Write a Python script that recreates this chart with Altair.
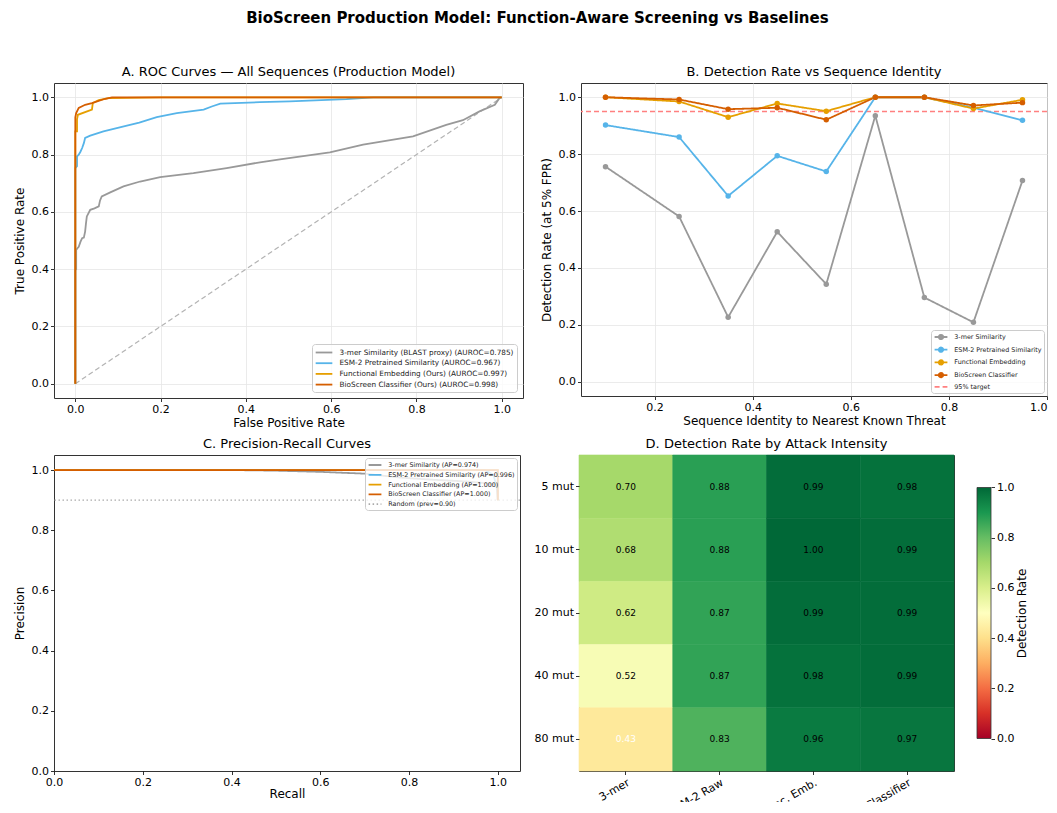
import altair as alt
import pandas as pd

FONT = "DejaVu Sans"

# ---------------- shared ----------------
colors = ["#999999", "#56B4E9", "#E69F00", "#D55E00"]
ticks01 = [0.0, 0.2, 0.4, 0.6, 0.8, 1.0]

# ---------------- Panel A: ROC curves ----------------
roc_labels = [
    "3-mer Similarity (BLAST proxy) (AUROC=0.785)",
    "ESM-2 Pretrained Similarity (AUROC=0.967)",
    "Functional Embedding (Ours) (AUROC=0.997)",
    "BioScreen Classifier (Ours) (AUROC=0.998)",
]
kmer_fpr = [0.0, 0.0, 0.002, 0.002, 0.005, 0.008, 0.012, 0.016, 0.020, 0.023, 0.025, 0.027,
            0.035, 0.045, 0.055, 0.058, 0.062, 0.082, 0.113, 0.152, 0.199, 0.277, 0.355,
            0.433, 0.480, 0.597, 0.675, 0.792, 0.870, 0.909, 0.948, 0.984, 0.995, 1.0]
kmer_tpr = [0.0, 0.397, 0.400, 0.467, 0.473, 0.478, 0.495, 0.508, 0.510, 0.531, 0.560, 0.584,
            0.607, 0.612, 0.619, 0.640, 0.654, 0.668, 0.689, 0.706, 0.721, 0.735, 0.753,
            0.773, 0.783, 0.808, 0.835, 0.864, 0.904, 0.920, 0.951, 0.974, 0.998, 1.0]
esm_fpr = [0.0, 0.0, 0.004, 0.004, 0.008, 0.012, 0.016, 0.020, 0.023, 0.035, 0.066, 0.121,
           0.150, 0.191, 0.238, 0.301, 0.320, 0.340, 0.433, 0.503, 0.636, 0.699, 1.0]
esm_tpr = [0.0, 0.753, 0.760, 0.794, 0.800, 0.810, 0.823, 0.840, 0.858, 0.866, 0.881, 0.901,
           0.912, 0.931, 0.945, 0.957, 0.968, 0.978, 0.983, 0.986, 0.994, 1.0, 1.0]
func_fpr = [0.0, 0.0, 0.004, 0.004, 0.006, 0.039, 0.041, 0.055, 0.078, 0.200, 1.0]
func_tpr = [0.0, 0.881, 0.881, 0.923, 0.939, 0.957, 0.980, 0.990, 0.997, 1.0, 1.0]
clf_fpr = [0.0, 0.0, 0.002, 0.008, 0.023, 0.039, 0.070, 0.086, 1.0]
clf_tpr = [0.0, 0.930, 0.945, 0.963, 0.974, 0.980, 0.995, 1.0, 1.0]
diag_x = [0.0, 1.0]
diag_y = [0.0, 1.0]

# ---------------- Panel B: detection vs identity ----------------
identity = [0.10, 0.25, 0.35, 0.45, 0.55, 0.65, 0.75, 0.85, 0.95]
b_labels = ["3-mer Similarity", "ESM-2 Pretrained Similarity", "Functional Embedding", "BioScreen Classifier"]
kmer_rate = [0.756, 0.581, 0.227, 0.527, 0.343, 0.935, 0.296, 0.209, 0.707]
esm_rate = [0.902, 0.860, 0.653, 0.794, 0.739, 1.0, 1.0, 0.963, 0.919]
func_rate = [1.0, 0.985, 0.930, 0.978, 0.951, 1.0, 1.0, 0.960, 0.991]
clf_rate = [1.0, 0.992, 0.958, 0.963, 0.921, 1.0, 1.0, 0.971, 0.981]
target_label = "95% target"
target_rate = 0.95

# ---------------- Panel C: precision-recall ----------------
pr_labels = [
    "3-mer Similarity (AP=0.974)",
    "ESM-2 Pretrained Similarity (AP=0.996)",
    "Functional Embedding (AP=1.000)",
    "BioScreen Classifier (AP=1.000)",
]
kmer_recall = [0.0, 0.40, 0.50, 0.60, 0.70, 0.78, 0.85, 0.93, 0.997, 1.0]
kmer_prec = [1.0, 1.0, 0.998, 0.994, 0.988, 0.975, 0.968, 0.962, 0.953, 0.90]
esm_recall = [0.0, 0.97, 0.99, 1.0, 1.0]
esm_prec = [1.0, 1.0, 0.985, 0.93, 0.90]
func_recall = [0.0, 1.0, 1.0]
func_prec = [1.0, 1.0, 0.90]
clf_recall = [0.0, 1.0, 1.0]
clf_prec = [1.0, 1.0, 0.90]
random_label = "Random (prev=0.90)"
prevalence = 0.90

# ---------------- Panel D: heatmap ----------------
methods = ["3-mer", "ESM-2 Raw", "Func. Emb.", "Classifier"]
intensities = ["5 mut", "10 mut", "20 mut", "40 mut", "80 mut"]
heat_values = [
    [0.70, 0.88, 0.99, 0.98],
    [0.68, 0.88, 1.00, 0.99],
    [0.62, 0.87, 0.99, 0.99],
    [0.52, 0.87, 0.98, 0.99],
    [0.43, 0.83, 0.96, 0.97],
]
rdylgn = ["#a50026", "#d73027", "#f46d43", "#fdae61", "#fee08b", "#ffffbf",
          "#d9ef8b", "#a6d96a", "#66bd63", "#1a9850", "#006837"]
rdylgn_stops = [0.0, 0.1, 0.2, 0.3, 0.4, 0.5, 0.6, 0.7, 0.8, 0.9, 1.0]
cbar_lo = [0.0]
cbar_hi = [1.0]

# ---------------- sizes ----------------
A_W, A_H = 469, 315
B_W, B_H = 466, 313
C_W, C_H = 466, 316
D_W, D_H = 375, 316
CB_X, CB_W, CB_LEN = 398, 14, 251

# legend glyphs: a short line, and a short line with a round marker
LINE_GLYPH = "M-1.6,0L1.6,0"
MARK_GLYPH = "M-1.6,0L1.6,0M0.55,0A0.55,0.55,0,1,1,-0.55,0A0.55,0.55,0,1,1,0.55,0Z"


def series_rows(label, xs, ys, xn, yn):
    return [{"series": label, xn: x, yn: y, "idx": i} for i, (x, y) in enumerate(zip(xs, ys))]


def line_legend(orient, offset, fs, size, rowpad, half, pad, symoff, laboff):
    return alt.Legend(
        orient=orient, offset=offset, title=None,
        fillColor="rgba(255,255,255,0.8)", strokeColor="#cccccc", cornerRadius=3, padding=pad,
        labelFont=FONT, labelFontSize=fs, labelColor="#222222", labelLimit=500,
        symbolType=f"M-{half},0L{half},0", symbolSize=size, symbolStrokeWidth=1.8,
        symbolOffset=symoff, rowPadding=rowpad, labelOffset=laboff,
    )


def panel_title(text, offset=4):
    return alt.TitleParams(text, font=FONT, fontSize=13, fontWeight="normal", color="black", offset=offset)


# ---------------- Panel A chart ----------------
a_rows = []
for lab, xs, ys in zip(roc_labels, [kmer_fpr, esm_fpr, func_fpr, clf_fpr], [kmer_tpr, esm_tpr, func_tpr, clf_tpr]):
    a_rows += series_rows(lab, xs, ys, "fpr", "tpr")
a_df = pd.DataFrame(a_rows)
a_x = alt.X("fpr:Q", scale=alt.Scale(domain=[-0.05, 1.05], nice=False, zero=False),
            axis=alt.Axis(values=ticks01, format=".1f", title="False Positive Rate", grid=True,
                          labelFlush=False, titlePadding=3))
a_y = alt.Y("tpr:Q", scale=alt.Scale(domain=[-0.05, 1.05], nice=False, zero=False),
            axis=alt.Axis(values=ticks01, format=".1f", title="True Positive Rate", grid=True, titlePadding=5))
a_diag = alt.Chart(pd.DataFrame({"fpr": diag_x, "tpr": diag_y})).mark_line(
    color="#b3b3b3", strokeDash=[5, 3], strokeWidth=1.2).encode(x=a_x, y=a_y)
a_lines = alt.Chart(a_df).mark_line(strokeWidth=1.8).encode(
    x=a_x, y=a_y,
    color=alt.Color("series:N", scale=alt.Scale(domain=roc_labels, range=colors),
                    legend=line_legend("bottom-right", 6, 7.3, 81, 0.7, 1.85, 3, 3.5, 10)),
    detail="series:N", order="idx:Q",
)
A = alt.layer(a_diag, a_lines).properties(
    width=A_W, height=A_H, title=panel_title("A. ROC Curves \u2014 All Sequences (Production Model)"))

# ---------------- Panel B chart ----------------
b_rows = []
for lab, ys in zip(b_labels, [kmer_rate, esm_rate, func_rate, clf_rate]):
    b_rows += series_rows(lab, identity, ys, "identity", "rate")
b_df = pd.DataFrame(b_rows)
b_domain = b_labels + [target_label]
b_range = colors + ["#ff8080"]
b_leg = line_legend("bottom-right", 3, 6.4, 64, 0.7, 1.6, 2, 3, 8.3)
b_color = alt.Color("series:N", scale=alt.Scale(domain=b_domain, range=b_range), legend=b_leg)
b_stroke = alt.Stroke("series:N", scale=alt.Scale(domain=b_domain, range=b_range), legend=b_leg)
b_dash = alt.StrokeDash("series:N", scale=alt.Scale(domain=b_domain, range=[[1, 0]] * 4 + [[5, 3]]), legend=b_leg)
b_shape = alt.Shape("series:N", scale=alt.Scale(domain=b_domain, range=[MARK_GLYPH] * 4 + [LINE_GLYPH]), legend=b_leg)
b_x = alt.X("identity:Q", scale=alt.Scale(domain=[0.05, 1.0], nice=False, zero=False),
            axis=alt.Axis(values=[0.2, 0.4, 0.6, 0.8, 1.0], format=".1f",
                          title="Sequence Identity to Nearest Known Threat", grid=True,
                          labelFlush=True, titlePadding=3))
b_y = alt.Y("rate:Q", scale=alt.Scale(domain=[-0.05, 1.05], nice=False, zero=False),
            axis=alt.Axis(values=ticks01, format=".1f", title="Detection Rate (at 5% FPR)", grid=True, titlePadding=5))
b_target = alt.Chart(pd.DataFrame({"series": [target_label], "rate": [target_rate]})).mark_rule(
    strokeWidth=1.5).encode(y=b_y, color=b_color, strokeDash=b_dash)
b_lines = alt.Chart(b_df).mark_line(strokeWidth=1.8).encode(
    x=b_x, y=b_y, color=b_color, strokeDash=b_dash, order="idx:Q")
b_pts = alt.Chart(b_df).mark_circle(size=30, opacity=1).encode(x=b_x, y=b_y, color=b_color)
# legend-key layer (draws no marks): gives each legend entry its line-with-marker glyph
b_keys = alt.Chart(b_df).transform_filter("false").mark_point(filled=True, strokeWidth=1.8).encode(
    x=b_x, y=b_y, color=b_color, stroke=b_stroke, strokeDash=b_dash, shape=b_shape)
B = alt.layer(b_target, b_lines, b_pts, b_keys).properties(
    width=B_W, height=B_H, title=panel_title("B. Detection Rate vs Sequence Identity"))

# ---------------- Panel C chart ----------------
c_rows = []
for lab, xs, ys in zip(pr_labels, [kmer_recall, esm_recall, func_recall, clf_recall],
                       [kmer_prec, esm_prec, func_prec, clf_prec]):
    c_rows += series_rows(lab, xs, ys, "recall", "precision")
c_df = pd.DataFrame(c_rows)
c_domain = pr_labels + [random_label]
c_leg = line_legend("top-right", 3, 6.4, 64, 0.8, 1.6, 2, 3, 8.3)
c_color = alt.Color("series:N", scale=alt.Scale(domain=c_domain, range=colors + ["#aaaaaa"]), legend=c_leg)
c_dash = alt.StrokeDash("series:N", scale=alt.Scale(domain=c_domain, range=[[1, 0]] * 4 + [[1.5, 2.5]]), legend=c_leg)
c_x = alt.X("recall:Q", scale=alt.Scale(domain=[0.0, 1.05], nice=False, zero=False),
            axis=alt.Axis(values=ticks01, format=".1f", title="Recall", grid=False,
                          labelFlush=False, titlePadding=1))
c_y = alt.Y("precision:Q", scale=alt.Scale(domain=[0.0, 1.05], nice=False, zero=False),
            axis=alt.Axis(values=ticks01, format=".1f", title="Precision", grid=False, titlePadding=5))
c_random = alt.Chart(pd.DataFrame({"series": [random_label], "precision": [prevalence]})).mark_rule(
    strokeWidth=1.2).encode(y=c_y, color=c_color, strokeDash=c_dash)
c_lines = alt.Chart(c_df).mark_line(strokeWidth=1.8).encode(
    x=c_x, y=c_y, color=c_color, strokeDash=c_dash, order="idx:Q")
C = alt.layer(c_random, c_lines).properties(
    width=C_W, height=C_H, title=panel_title("C. Precision-Recall Curves"))

# ---------------- Panel D chart ----------------
d_rows = []
for i, inten in enumerate(intensities):
    for j, m in enumerate(methods):
        d_rows.append({"method": m, "intensity": inten, "value": heat_values[i][j]})
d_df = pd.DataFrame(d_rows)
d_base = alt.Chart(d_df).encode(
    x=alt.X("method:N", sort=methods,
            axis=alt.Axis(title=None, labelAngle=330, labelAlign="right", labelBaseline="top", grid=False)),
    y=alt.Y("intensity:N", sort=intensities, axis=alt.Axis(title=None, grid=False)),
)
heat_scale = alt.Scale(domain=rdylgn_stops, range=rdylgn, interpolate="rgb")
d_rect = d_base.mark_rect(strokeWidth=0.6).encode(
    color=alt.Color("value:Q", scale=heat_scale, legend=None),
    stroke=alt.Stroke("value:Q", scale=heat_scale, legend=None),
)
d_text = d_base.mark_text(font=FONT, fontSize=9).encode(
    text=alt.Text("value:Q", format=".2f"),
    color=alt.condition("datum.value < 0.5", alt.value("white"), alt.value("black")),
)
d_heat = alt.layer(d_rect, d_text)

# colour bar for the heatmap scale: gradient rectangle with its own axis on the right
cb_pad = (D_H - CB_LEN) / 2.0 / CB_LEN
cbar = alt.Chart(pd.DataFrame({"lo": cbar_lo, "hi": cbar_hi})).mark_rect(
    color=alt.Gradient(
        gradient="linear", x1=0, x2=0, y1=1, y2=0,
        stops=[alt.GradientStop(offset=s, color=c) for s, c in zip(rdylgn_stops, rdylgn)],
    ),
    stroke="#333333", strokeWidth=0.8,
).encode(
    x=alt.value(CB_X), x2=alt.value(CB_X + CB_W),
    y=alt.Y("lo:Q", scale=alt.Scale(domain=[-cb_pad, 1 + cb_pad], nice=False, zero=False),
            axis=alt.Axis(orient="right", offset=CB_X + CB_W - D_W, values=ticks01, format=".1f",
                          title="Detection Rate", titleAngle=270, titleBaseline="top",
                          titlePadding=3, grid=False)),
    y2="hi:Q",
)
D = alt.layer(d_heat, cbar).resolve_scale(y="independent").properties(
    width=D_W, height=D_H, title=panel_title("D. Detection Rate by Attack Intensity"))

# ---------------- layout ----------------
row1 = alt.hconcat(A, B, spacing=58, bounds="flush").resolve_scale(
    color="independent", strokeDash="independent", stroke="independent", shape="independent")
row2 = alt.hconcat(C, D, spacing=59, bounds="flush").resolve_scale(
    color="independent", strokeDash="independent", stroke="independent")

chart = alt.vconcat(row1, row2, spacing=8).resolve_scale(
    color="independent", strokeDash="independent", stroke="independent"
).properties(
    title=alt.TitleParams("BioScreen Production Model: Function-Aware Screening vs Baselines",
                          font=FONT, fontSize=15, fontWeight="bold", color="black",
                          anchor="middle", offset=40, dx=7),
    padding={"left": 4, "top": 2, "right": 0, "bottom": -16},
).configure_view(
    stroke="#333333", strokeWidth=1
).configure_axis(
    labelFont=FONT, titleFont=FONT, labelFontSize=11, titleFontSize=12,
    labelColor="black", titleColor="black", titleFontWeight="normal",
    tickColor="black", tickSize=3.5, tickWidth=0.8, domain=False,
    gridColor="#e6e6e6", gridWidth=0.8, labelPadding=2,
)

chart.save("out.html", embed_options={"renderer": "svg", "actions": False})
